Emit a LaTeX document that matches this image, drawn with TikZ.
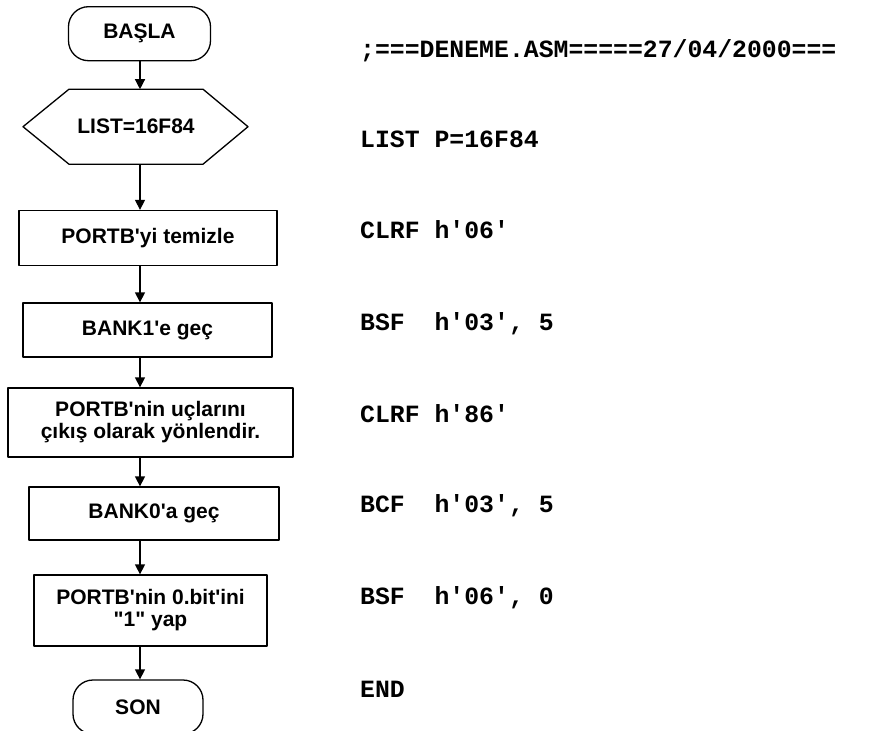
\documentclass[tikz,border=0pt]{standalone}
\usepackage{fontspec}
\newfontfamily\flowfont{Liberation Sans}
\newfontfamily\asmfont{Liberation Mono}
\usetikzlibrary{arrows.meta}
\tikzset{
  every picture/.style={line join=round, >={Triangle[length=10pt,width=10pt]}},
  flowline/.style={line width=1.3pt},
  flowtext/.style={font=\flowfont\bfseries\fontsize{21}{22}\selectfont},
  terminal/.style={flowtext, draw, flowline, rounded corners=20pt, inner sep=0pt},
  process/.style={flowtext, draw, flowline, align=center, inner sep=0pt},
  asm/.style={anchor=base west, inner sep=0pt, font=\asmfont\bfseries\fontsize{24.8}{26}\selectfont},
}

\begin{document}
\begin{tikzpicture}[x=1pt,y=-1pt]
\clip (0,0) rectangle (876,731);
\coordinate (ax) at (140,0);
\node[terminal, minimum width=142pt, minimum height=54pt] (basla) at (139.5,33.7) {BAŞLA};
\node[flowtext, minimum width=134pt, minimum height=75pt, inner sep=0pt, outer sep=0pt] (list) at (136,126.7) {LIST=16F84};
\draw[flowline] (list.north west) -- (list.north east) -- ([xshift=45pt]list.east) -- (list.south east)
  -- (list.south west) -- ([xshift=-46pt]list.west) -- cycle;
\node[process, minimum width=258pt, minimum height=55pt] (clrb) at (148,238) {PORTB'yi temizle};
\node[process, minimum width=249pt, minimum height=54pt] (bank1) at (147.5,330) {BANK1'e geç};
\node[process, minimum width=285pt, minimum height=69pt] (trisb) at (150.5,422.5) {PORTB'nin uçlarını\\çıkış olarak yönlendir.};
\node[process, minimum width=250pt, minimum height=53pt] (bank0) at (154,513.5) {BANK0'a geç};
\node[process, minimum width=233pt, minimum height=71pt] (setb) at (150.5,610.5) {PORTB'nin 0.bit'ini\\"1" yap};
\node[terminal, minimum width=130pt, minimum height=54pt] (son) at (138,707) {SON};

\draw[->, flowline] (basla.south -| ax) -- (list.north -| ax);
\draw[->, flowline] (list.south -| ax) -- (clrb.north -| ax);
\draw[->, flowline] (clrb.south -| ax) -- (bank1.north -| ax);
\draw[->, flowline] (bank1.south -| ax) -- (trisb.north -| ax);
\draw[->, flowline] (trisb.south -| ax) -- (bank0.north -| ax);
\draw[->, flowline] (bank0.south -| ax) -- (setb.north -| ax);
\draw[->, flowline] (setb.south -| ax) -- (son.north -| ax);

\node[asm] (head) at (360,57) {;===DENEME.ASM=====27/04/2000===};
\node[asm] (l1) at (360,147) {LIST P=16F84};
\node[asm] (l2) at (360,238) {CLRF h'06'};
\node[asm] (l3) at (360,330) {BSF\ \ h'03', 5};
\node[asm] (l4) at (360,422) {CLRF h'86'};
\node[asm] (l5) at (360,512) {BCF\ \ h'03', 5};
\node[asm] (l6) at (360,604) {BSF\ \ h'06', 0};
\node[asm] (l7) at (360,697) {END};
\end{tikzpicture}
\end{document}
